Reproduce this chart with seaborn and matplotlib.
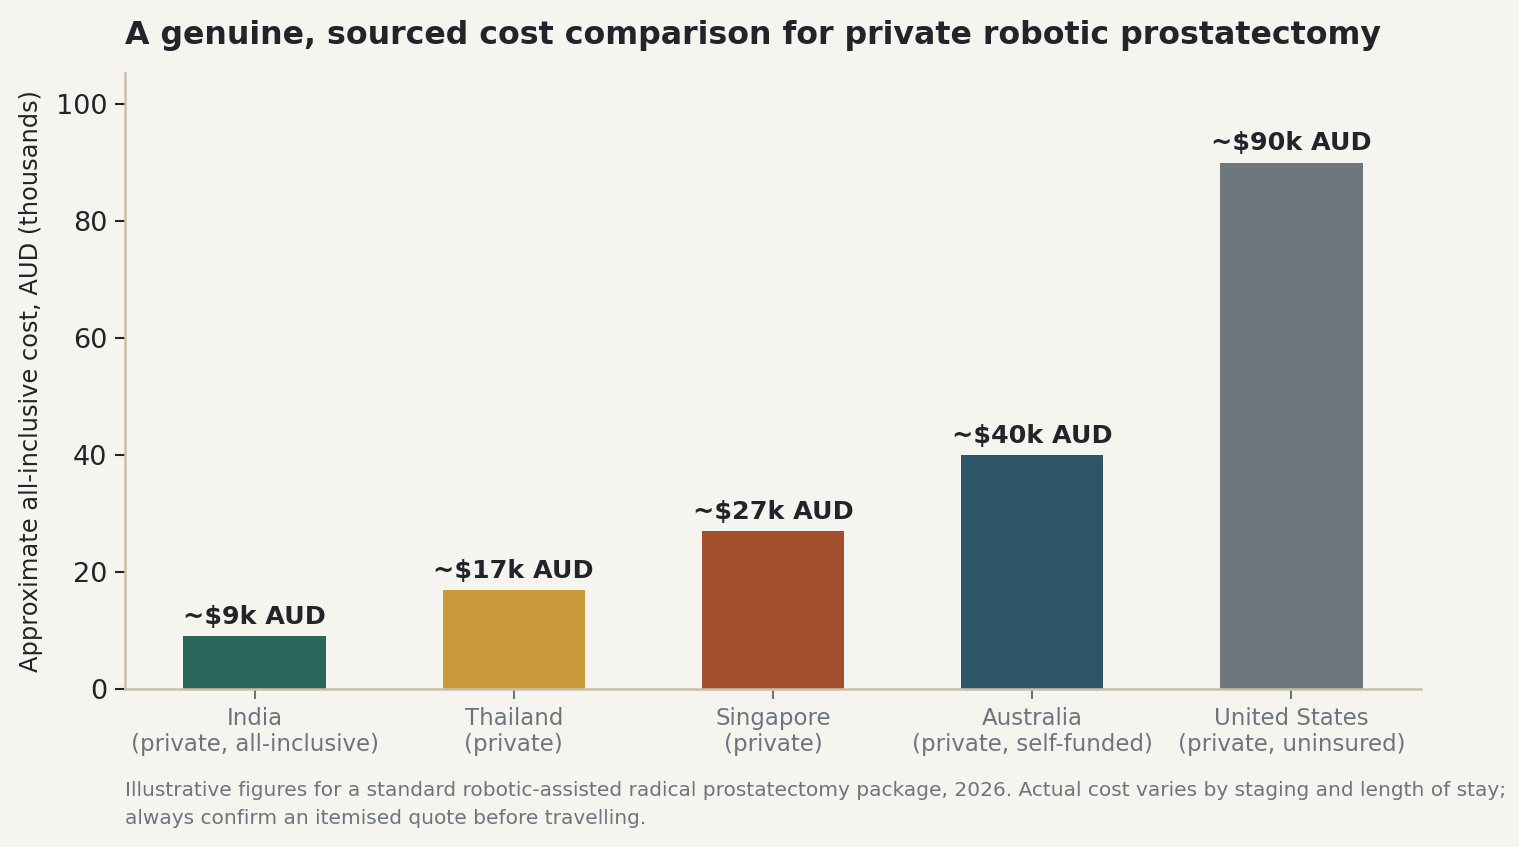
import matplotlib
matplotlib.use("Agg")
import matplotlib.pyplot as plt
import seaborn as sns
import pandas as pd

# Data
countries = ["India\n(private, all-inclusive)", "Thailand\n(private)", "Singapore\n(private)",
             "Australia\n(private, self-funded)", "United States\n(private, uninsured)"]
costs = [9, 17, 27, 40, 90]
labels = ["~$9k AUD", "~$17k AUD", "~$27k AUD", "~$40k AUD", "~$90k AUD"]
colors = ["#2b675b", "#c9993a", "#a34f2e", "#2e5467", "#6f777e"]

BG = "#f5f4ef"
DARK = "#212529"
GREY = "#6c757d"
SPINE = "#c9c0a8"

sns.set_theme(style="white")
plt.rcParams["font.family"] = ["DejaVu Sans"]

df = pd.DataFrame({"country": countries, "cost": costs})

fig = plt.figure(figsize=(1519 / 150, 847 / 150), dpi=150, facecolor=BG)
ax = fig.add_axes([125 / 1519, 1 - 689 / 847, (1421 - 125) / 1519, (689 - 73) / 847])
ax.set_facecolor(BG)

sns.barplot(data=df, x="country", y="cost", hue="country", palette=colors,
            width=0.55, legend=False, ax=ax, saturation=1, edgecolor="none", linewidth=0)

for i, (v, lab) in enumerate(zip(costs, labels)):
    ax.text(i, v + 1.2, lab, ha="center", va="bottom", fontsize=12.2,
            fontweight="bold", color=DARK)

ax.set_xlim(-0.5, 4.5)
ax.set_ylim(0, max(costs) * 1.17)
ax.set_yticks([0, 20, 40, 60, 80, 100])
ax.set_xlabel("")
ax.set_ylabel("Approximate all-inclusive cost, AUD (thousands)", fontsize=11.6,
              color=DARK, labelpad=6)

ax.tick_params(axis="y", labelsize=13, colors=DARK, left=True, length=5, width=1)
ax.tick_params(axis="x", labelsize=11, labelcolor=GREY, bottom=True, length=5,
               width=1, color=GREY)

for s in ["top", "right"]:
    ax.spines[s].set_visible(False)
for s in ["left", "bottom"]:
    ax.spines[s].set_color(SPINE)
    ax.spines[s].set_linewidth(1.2)

ax.set_title("A genuine, sourced cost comparison for private robotic prostatectomy",
             loc="left", fontsize=15.2, fontweight="bold", color=DARK, pad=14)

fig.text(125 / 1519, 1 - 805 / 847,
         "Illustrative figures for a standard robotic-assisted radical prostatectomy package, 2026. "
         "Actual cost varies by staging and length of stay;\nalways confirm an itemised quote before travelling.",
         fontsize=9.65, color=GREY, va="center", linespacing=1.6)

fig.savefig("out.png", dpi=150, facecolor=BG)
